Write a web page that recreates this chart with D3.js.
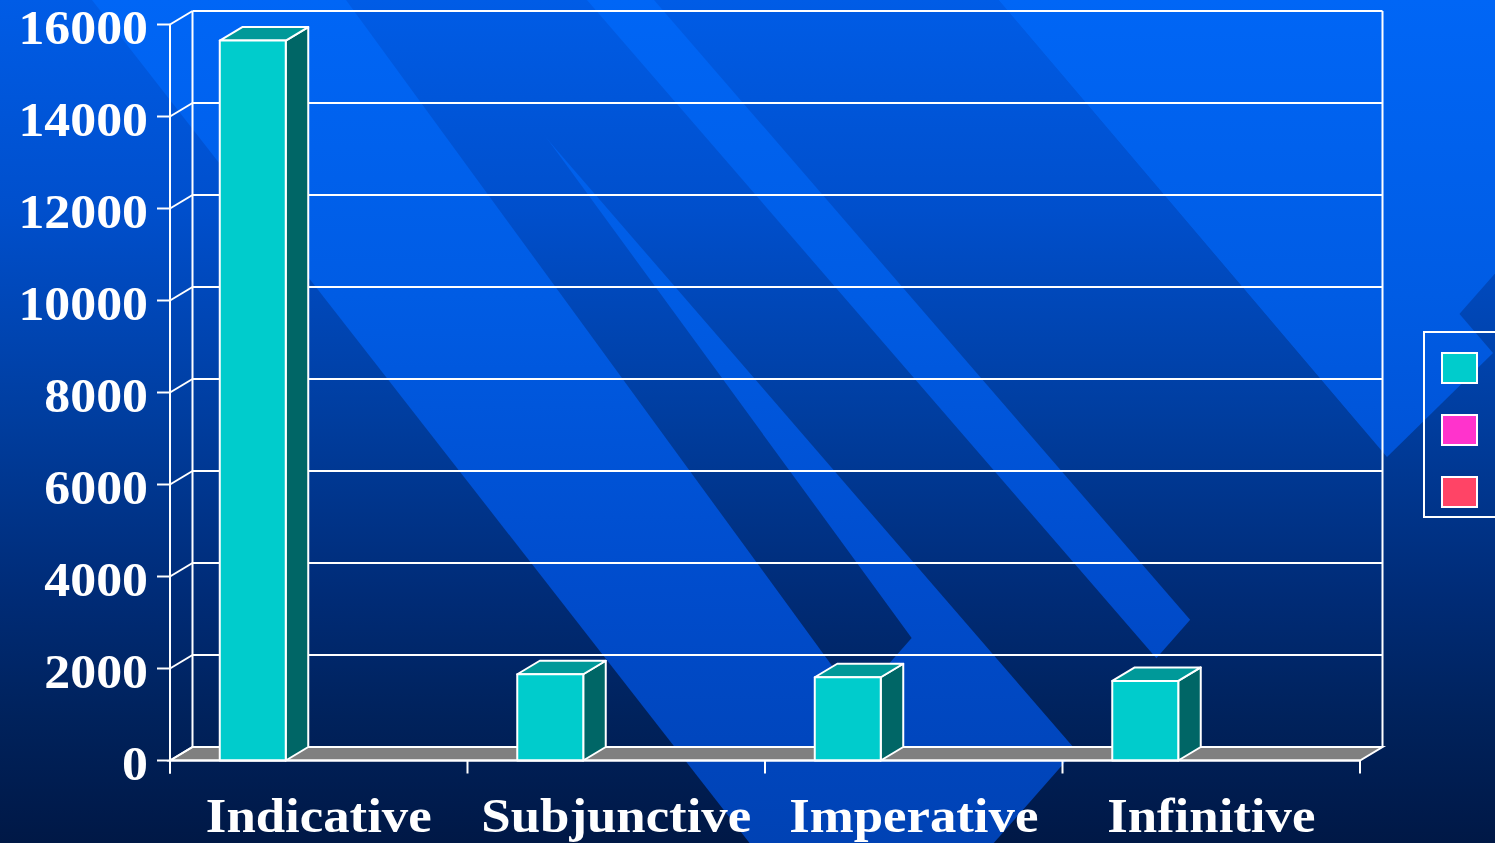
<!DOCTYPE html>
<html><head><meta charset="utf-8">
<script src="https://cdn.jsdelivr.net/npm/d3@7"></script>
<style>html,body{margin:0;padding:0;overflow:hidden;background:#00194a}svg{display:block}</style>
</head><body><svg id="c" width="1495" height="843"></svg>
<script>
// ---- data ----
const categories = ["Indicative", "Subjunctive", "Imperative", "Infinitive"];
const seriesNames = ["Series 1", "Series 2", "Series 3"];
const series1 = [15650, 1875, 1810, 1730];
const series2 = [0, 0, 0, 0];
const series3 = [0, 0, 0, 0];
const yTicks = [0, 2000, 4000, 6000, 8000, 10000, 12000, 14000, 16000];

// ---- style ----
const COLORS = {front: ["#00cccc", "#ff33cc", "#ff4466"], top: ["#009999", "#cc2299", "#cc3350"], side: ["#006666", "#991a73", "#99263d"]};
const W = 1495, H = 843;
const FONT = "'Liberation Serif','Times New Roman',serif";
const DX = 22.5, DY = -13.5;

const svg = d3.select("#c");
const defs = svg.append("defs");
function grad(id, stops) {
  const g = defs.append("linearGradient").attr("id", id).attr("gradientUnits", "userSpaceOnUse")
    .attr("x1", 0).attr("y1", 0).attr("x2", 0).attr("y2", H);
  stops.forEach(([o, c]) => g.append("stop").attr("offset", o).attr("stop-color", c));
}
grad("bg", [[0, "#005ce6"], [0.25, "#004fcc"], [0.5, "#003d9e"], [0.7, "#002c78"], [0.85, "#00225c"], [1, "#001846"]]);
grad("lt", [[0, "#0066f6"], [0.35, "#005ce4"], [0.7, "#004ccc"], [1, "#0042b4"]]);

svg.append("rect").attr("width", W).attr("height", H).attr("fill", "url(#bg)");

// ---- decorative background ribbons (template artwork) ----
const line = (x0, s) => y => x0 + s * y;
const cut = y => 1735.6 - 0.88 * y;
const L = line(92, 0.78);
const deco = svg.append("g");
const poly = (pts, fill) => deco.append("polygon").attr("points", pts.map(p => p.join(",")).join(" ")).attr("fill", fill);
poly([[L(0), 0], [cut(0), 0], [cut(H), H], [L(H), H]], "url(#lt)");
{
  const a = line(346, 0.73), b = line(446, 0.73);
  const ya = (1473 - 346) / (0.73 + 0.88), yb = (1473 - 446) / (0.73 + 0.88);
  poly([[a(0), 0], [b(0), 0], [b(yb), yb], [a(ya), ya]], "url(#bg)");
}
{
  const a = line(427, 0.865), b = line(587, 0.865);
  poly([[a(0), 0], [b(0), 0], [b(H), H], [a(H), H]], "url(#bg)");
}
{
  const a = line(654, 0.865), b = line(999, 0.85);
  poly([[a(0), 0], [b(0), 0], [b(H), H], [a(H), H]], "url(#bg)");
}
poly([[999, 0], [1190, 0], [1493, 353], [1387, 457]], "url(#lt)");

// ---- scales ----
const x = d3.scaleBand().domain(categories).range([170, 1360]);
const sub = d3.scaleBand().domain(seriesNames).range([0, x.bandwidth()]).paddingOuter(0.754);
const y = d3.scaleLinear().domain([0, 16000]).range([760.5, 24.5]);
const x0 = x.range()[0], x1 = x.range()[1], y0 = y(0), yTop = y(16000);

const frame = svg.append("g").attr("stroke", "#fff").attr("stroke-width", 2).attr("fill", "none");
frame.append("polygon")
  .attr("points", [[x0, y0], [x0 + DX, y0 + DY], [x1 + DX, y0 + DY], [x1, y0]].map(p => p.join(",")).join(" "))
  .attr("fill", "#808080");
frame.selectAll("line.grid").data(yTicks.filter(t => t > 0)).join("line").attr("class", "grid")
  .attr("x1", x0 + DX).attr("x2", x1 + DX).attr("y1", d => y(d) + DY).attr("y2", d => y(d) + DY);
frame.selectAll("line.diag").data(yTicks).join("line").attr("class", "diag")
  .attr("x1", x0).attr("x2", x0 + DX).attr("y1", d => y(d)).attr("y2", d => y(d) + DY);
frame.append("line").attr("x1", x0 + DX).attr("x2", x0 + DX).attr("y1", yTop + DY).attr("y2", y0 + DY);
frame.append("line").attr("x1", x1 + DX).attr("x2", x1 + DX).attr("y1", yTop + DY).attr("y2", y0 + DY);

// ---- bars ----
const series = [series1, series2, series3];
const bars = [];
series.forEach((vals, si) => vals.forEach((v, ci) => { if (v > 0) bars.push({si, ci, v}); }));
const barG = svg.append("g").attr("stroke", "#fff").attr("stroke-width", 2).attr("stroke-linejoin", "round");
bars.forEach(b => {
  const bx = x(categories[b.ci]) + sub(seriesNames[b.si]);
  const bw = sub.bandwidth();
  const by = y(b.v);
  const g = barG.append("g");
  g.append("polygon").attr("fill", COLORS.side[b.si])
    .attr("points", [[bx + bw, by], [bx + bw + DX, by + DY], [bx + bw + DX, y0 + DY], [bx + bw, y0]].map(p => p.join(",")).join(" "));
  g.append("polygon").attr("fill", COLORS.top[b.si])
    .attr("points", [[bx, by], [bx + DX, by + DY], [bx + bw + DX, by + DY], [bx + bw, by]].map(p => p.join(",")).join(" "));
  g.append("rect").attr("fill", COLORS.front[b.si]).attr("x", bx).attr("y", by).attr("width", bw).attr("height", y0 - by);
});

// ---- axes ----
const axG = svg.append("g").attr("stroke", "#fff").attr("stroke-width", 2);
axG.append("line").attr("x1", x0).attr("x2", x0).attr("y1", yTop).attr("y2", y0 + 13);
axG.append("line").attr("x1", x0).attr("x2", x1).attr("y1", y0).attr("y2", y0);
axG.selectAll("line.yt").data(yTicks).join("line").attr("class", "yt")
  .attr("x1", x0 - 13).attr("x2", x0).attr("y1", d => y(d)).attr("y2", d => y(d));
const xTickPos = categories.map(c => x(c)).concat([x1]);
axG.selectAll("line.xt").data(xTickPos).join("line").attr("class", "xt")
  .attr("x1", d => d).attr("x2", d => d).attr("y1", y0).attr("y2", y0 + 13);

const lab = svg.append("g").attr("fill", "#fff").attr("font-family", FONT).attr("font-weight", "bold").attr("font-size", 48);
lab.selectAll("text.yl").data(yTicks).join("text").attr("class", "yl")
  .attr("text-anchor", "end")
  .attr("transform", d => `translate(148,${y(d) + 19}) scale(1.08,1)`)
  .text(d => d);
lab.selectAll("text.xl").data(categories).join("text").attr("class", "xl")
  .attr("text-anchor", "middle")
  .attr("transform", d => `translate(${x(d) + x.bandwidth() / 2},832) scale(1.1,1)`)
  .text(d => d);

// ---- legend ----
const leg = svg.append("g");
leg.append("rect").attr("x", 1424).attr("y", 332).attr("width", 120).attr("height", 185)
  .attr("fill", "none").attr("stroke", "#fff").attr("stroke-width", 2);
const ly = d3.scalePoint().domain(seriesNames).range([353, 477]);
leg.selectAll("rect.sw").data(seriesNames).join("rect").attr("class", "sw")
  .attr("x", 1442).attr("y", d => ly(d)).attr("width", 35).attr("height", 30)
  .attr("fill", (d, i) => COLORS.front[i]).attr("stroke", "#fff").attr("stroke-width", 2);
</script>
</body></html>
